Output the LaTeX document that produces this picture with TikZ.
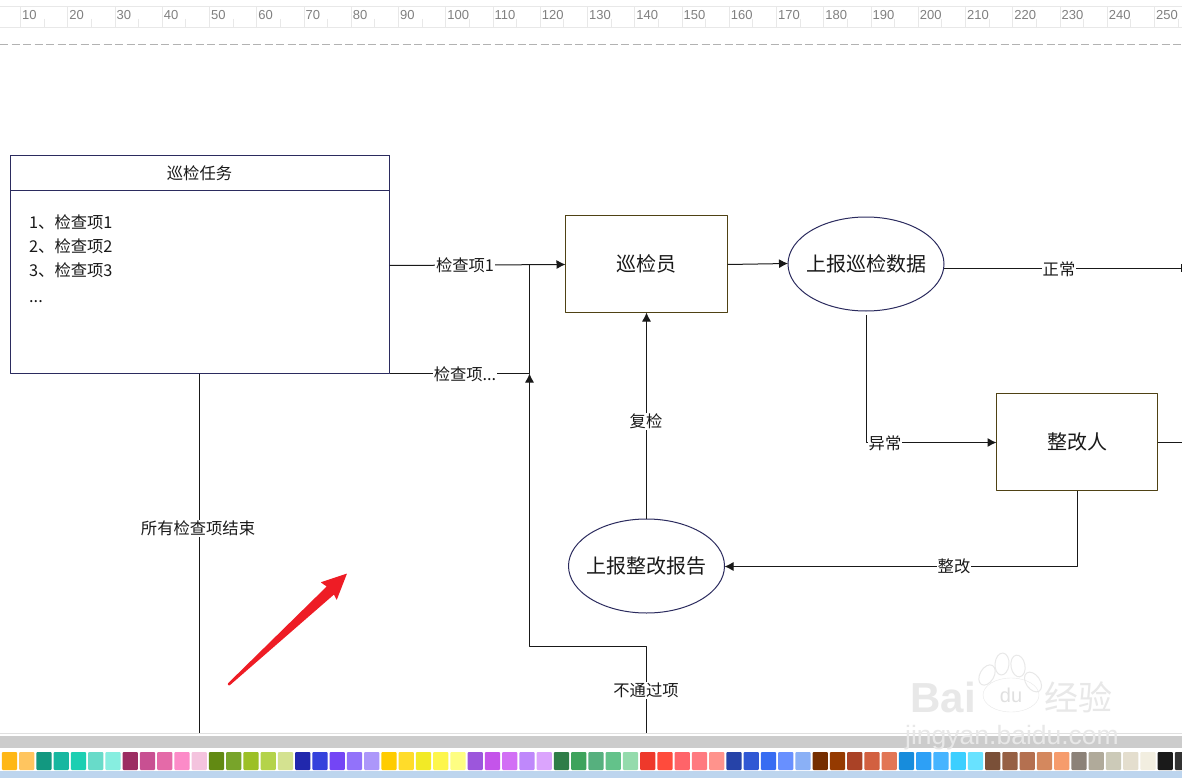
\documentclass[tikz,border=0pt]{standalone}
\usepackage{fontspec}
\setmainfont{Noto Sans CJK SC}
\newfontfamily\rulerfont{Liberation Sans}
\usetikzlibrary{shapes.geometric,arrows.meta}
\definecolor{navy}{HTML}{2B2B5E}
\definecolor{olive}{HTML}{4F4214}
\definecolor{stripblue}{HTML}{BDD5EE}
\definecolor{redarrow}{HTML}{EE1C25}
\newcommand{\lowered}[1]{\raisebox{-1.5pt}{#1}}
\tikzset{
	flowline/.style={draw=black!90, line width=1pt},
	tip/.style={flowline,-{Latex[length=9pt,width=9pt]}},
	lbl/.style={fill=white, inner sep=1pt, font=\fontsize{16.3}{16.3}\selectfont, text=black!90},
	actor/.style={draw=olive, line width=1pt, outer sep=0pt, minimum width=162pt, minimum height=97pt, font=\fontsize{20}{20}\selectfont, text=black!90},
	report/.style={draw=navy, line width=1pt, outer sep=0pt, ellipse, minimum width=156pt, minimum height=94pt, inner ysep=0pt, inner xsep=-5pt, font=\fontsize{20}{20}\selectfont, text=black!90},
	item/.style={inner sep=0pt, anchor=west, font=\fontsize{16.3}{16.3}\selectfont, text=black!90},
	swatch/.style={rounded corners=1pt, minimum width=15.3pt, minimum height=18pt, inner sep=0pt},
	wmark/.style={inner sep=0pt, text=black!9},
}
\begin{document}
\begin{tikzpicture}[x=1pt,y=-1pt, line join=round]
	\useasboundingbox (0,0) rectangle (1182,778);
	\fill[white] (0,0) rectangle (1182,778);
	% ruler
	\draw[black!9,line width=1pt] (0,6.5)--(1182,6.5) (0,27.5)--(1182,27.5);
	\foreach \i in {1,...,25}{
		\pgfmathsetmacro\px{20.5+(\i-1)*47.25}
		\pgfmathtruncatemacro\num{\i*10}
		\draw[black!9,line width=1pt] (\px,6.5)--(\px,27.5) (\px+23.6,19)--(\px+23.6,27.5);
		\node[anchor=west,inner sep=0pt,text=black!50,font=\rulerfont\fontsize{13}{13}\selectfont] (rul\i) at (\px+1.5,15) {\num};
	}
	\draw[black!30,line width=1pt,dash pattern=on 8pt off 3.5pt] (0,44.5)--(1182,44.5);
	% task box
	\node[draw=navy,line width=1pt,outer sep=0pt,minimum width=379pt,minimum height=218pt,inner sep=0pt] (task) at (200,264.5) {};
	\node[draw=navy,line width=1pt,outer sep=0pt,minimum width=379pt,minimum height=35pt,inner sep=0pt,font=\fontsize{16.3}{16.3}\selectfont,text=black!90] (taskhead) at (199.5,173) {巡检任务};
	\node[item] (item1) at (29,222.5) {1、检查项1};
	\node[item] (item2) at (29,246.5) {2、检查项2};
	\node[item] (item3) at (29,270.5) {3、检查项3};
	\node[item] (item4) at (29,302) {...};
	% nodes
	\node[actor] (inspector) at (646.5,264) {\lowered{巡检员}};
	\node[report] (uploaddata) at (866,264) {\lowered{上报巡检数据}};
	\node[actor,minimum width=161pt] (fixer) at (1077,442) {\lowered{整改人}};
	\node[report] (uploadfix) at (646.5,566) {\lowered{上报整改报告}};
	% free ends
	\coordinate (leftend) at (199.5,733);
	\coordinate (failend) at (646.5,733);
	\coordinate (okend) at (1182,268.5);
	\coordinate (fixend) at (1182,442.5);
	\coordinate (joina) at (529.5,264.5);
	\coordinate (joinb) at (529.5,373.5);
	\coordinate (failturn) at (646.5,646.5);
	\coordinate (failturnb) at (529.5,646.5);
	\coordinate (dropa) at (866.5,442.5);
	\coordinate (dropb) at (1077.5,566.5);
	% connectors
	\draw[tip] (task.east |- 0,265.5)--(inspector.west |- joina);
	\draw[flowline] (task.south east |- joinb)--(joinb)--(joina);
	\draw[tip] (failend)--(failturn)--(failturnb)--(joinb);
	\draw[tip] (inspector.east |- joina)--(uploaddata.west |- 0,263.5);
	\draw[flowline] (uploaddata.east |- okend)--(okend);
	\fill[black!90] (1180.5,264) rectangle (1182,272);
	\draw[tip] (dropa |- 0,315)--(dropa)--(fixer.west |- dropa);
	\draw[tip] (dropb |- fixer.south)--(dropb)--(uploadfix.east |- dropb);
	\draw[flowline] (fixer.east |- fixend)--(fixend);
	\draw[tip] (uploadfix.north)--(inspector.south);
	\draw[flowline] (leftend |- task.south)--(leftend);
	% labels
	\node[lbl] (l1) at (465,265.5) {检查项1};
	\node[lbl] (l2) at (465,374.5) {检查项...};
	\node[lbl] (l3) at (1059,269.5) {正常};
	\node[lbl] (l4) at (885,443.5) {异常};
	\node[lbl] (l5) at (954,566.5) {整改};
	\node[lbl] (l6) at (646,421.5) {复检};
	\node[lbl] (l7) at (646,690.5) {不通过项};
	\node[lbl] (l8) at (198,528.5) {所有检查项结束};
	% red arrow
	\fill[redarrow,rounded corners=0.5pt] (228,685)--(227.8,683.5)--(326.7,586.5)--(320.7,582.3)--(347,573.5)--(336.7,600)--(334,594.5)--(229.5,685.5)--cycle;
	% bottom
	\draw[black!12,line width=1pt] (0,733.5)--(1182,733.5);
	\fill[black!20] (0,736) rectangle (1182,748);
	\fill[stripblue] (0,771) rectangle (1182,778);
	\foreach \c [count=\i from 0] in {FFB715,FFC55F,129880,17B7A0,1CCFB2,68DBC9,87EEE0,9C2D62,C85092,E46AA8,FC8BC8,F4C3DE,628A13,78A42A,9CC026,B4D34A,D4E290,2128AD,3542DC,7445F5,9272FA,AC97FA,FFCC00,FFDC2A,F2EA26,FDF64C,FEFE82,9C56DC,C454EA,D26FF5,BF88FB,DBA4FD,2F7D48,3EA35C,56B07E,63C28A,94DBAC,EE392B,FF4B3C,FF6469,FF7A80,FF938C,2643A8,3058D4,376CF2,6890FF,8AB0F6,752E00,953A00,AA4226,D26040,E27655,178CDC,2DA0F6,46B4FF,3CCFFF,68E2FF,7A5038,966044,B47050,D4885E,F69C6C,8C8278,B0AA9A,CCCAB8,E4DECE,F2EEE0,1A1A1A,333333}{
		\definecolor{cur}{HTML}{\c}
		\pgfmathsetmacro\px{9.5+\i*17.25}
		\node[swatch,fill=cur] (sw\i) at (\px,761) {};
	}
	% watermark
	\node[wmark,font=\rulerfont\bfseries\fontsize{42}{42}\selectfont] (wmbai) at (943,697) {Bai};
	\node[draw=black!9,fill=white,ellipse,minimum width=56pt,minimum height=34pt,inner sep=0pt,text=black!12,font=\rulerfont\fontsize{20}{20}\selectfont] (wmdu) at (1011,695) {du};
	\foreach \ex/\ey/\ang in {987/675/-30,1002/664/-5,1018/666/10,1033/682/35}
		\draw[black!9,line width=1pt,rotate around={\ang:(\ex,\ey)}] (\ex,\ey) ellipse (7pt and 11pt);
	\node[wmark,font=\fontsize{34}{34}\selectfont] (wmjy) at (1078,697) {经验};
	\node[wmark,font=\rulerfont\fontsize{26.5}{26.5}\selectfont] (wmurl) at (1012,738) {jingyan.baidu.com};
\end{tikzpicture}
\end{document}
